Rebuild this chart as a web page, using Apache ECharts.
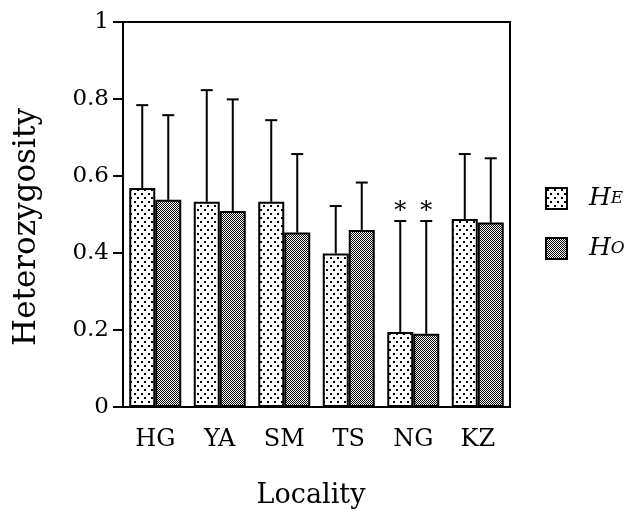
<!DOCTYPE html>
<html>
<head>
<meta charset="utf-8">
<script src="https://cdn.jsdelivr.net/npm/echarts@6/dist/echarts.min.js"></script>
<style>
html,body{margin:0;padding:0;background:#fff;}
#chart{width:625px;height:515px;}
</style>
</head>
<body>
<div id="chart"></div>
<script>
// ---- data ----
var categories = ['HG', 'YA', 'SM', 'TS', 'NG', 'KZ'];
var heMean  = [0.569, 0.533, 0.533, 0.399, 0.195, 0.488];
var hoMean  = [0.538, 0.509, 0.453, 0.460, 0.190, 0.479];
var heUpper = [0.784, 0.823, 0.745, 0.522, 0.483, 0.657];
var hoUpper = [0.758, 0.799, 0.657, 0.583, 0.483, 0.646];
var heStar  = [0, 0, 0, 0, 1, 0];
var hoStar  = [0, 0, 0, 0, 1, 0];
var yTicks  = ['0', '0.2', '0.4', '0.6', '0.8', '1'];

// ---- patterns ----
function makeTile(w, h, dots, bg) {
  var c = document.createElement('canvas');
  c.width = w; c.height = h;
  var g = c.getContext('2d');
  g.fillStyle = bg; g.fillRect(0, 0, w, h);
  g.fillStyle = '#000';
  dots.forEach(function (d) { g.fillRect(d[0], d[1], d[2], d[3]); });
  return c;
}
var heTile = makeTile(7, 8, [[1, 1, 2, 2], [4, 5, 2, 2]], '#fff');
var hoTile = makeTile(2, 2, [[0, 0, 1, 1], [1, 1, 1, 1]], '#fff');
var hePattern = { image: heTile, repeat: 'repeat' };
var hoPattern = { image: hoTile, repeat: 'repeat' };

var FONT = 'DejaVu Serif';
var BAR_W = 26;

function errRender(offset) {
  return function (params, api) {
    var i = api.value(0);
    var base = api.coord([i, api.value(1)]);
    var top = api.coord([i, api.value(2)]);
    var x = base[0] + offset;
    var children = [
      { type: 'line', shape: { x1: x, y1: base[1], x2: x, y2: top[1] },
        style: { stroke: '#000', lineWidth: 2 } },
      { type: 'line', shape: { x1: x - 6, y1: top[1], x2: x + 6, y2: top[1] },
        style: { stroke: '#000', lineWidth: 2 } }
    ];
    if (api.value(3)) {
      children.push({ type: 'text', style: { x: x, y: top[1] - 21, text: '*',
        fontFamily: FONT, fontSize: 24, fill: '#000', align: 'center', verticalAlign: 'top' } });
    }
    return { type: 'group', children: children };
  };
}

function errData(mean, upper, star) {
  return categories.map(function (c, i) { return [i, mean[i], upper[i], star[i]]; });
}

var chart = echarts.init(document.getElementById('chart'), null, { renderer: 'canvas' });
chart.setOption({
  animation: false,
  backgroundColor: '#fff',
  grid: { left: 123, right: 115, top: 22, bottom: 108, show: true,
          borderColor: '#000', borderWidth: 2, backgroundColor: 'transparent' },
  legend: {
    orient: 'vertical', left: 540, top: 181, itemWidth: 21, itemHeight: 21, itemGap: 25,
    icon: 'rect', selectedMode: false,
    data: ['HE', 'HO'],
    formatter: function (n) { return '{h|H}{s|' + n.charAt(1) + '}'; },
    textStyle: { padding: [0, 0, 0, 17], lineHeight: 21,
      rich: {
        h: { fontFamily: FONT, fontStyle: 'italic', fontSize: 25, color: '#000', lineHeight: 21 },
        s: { fontFamily: FONT, fontStyle: 'italic', fontSize: 17, color: '#000', lineHeight: 21 }
      } }
  },
  xAxis: {
    type: 'category', data: categories,
    axisLine: { lineStyle: { color: '#000', width: 2 } },
    axisTick: { alignWithLabel: true, length: 10, lineStyle: { color: '#000', width: 2 } },
    axisLabel: { color: '#000', fontFamily: FONT, fontSize: 24, margin: 21 }
  },
  yAxis: {
    type: 'value', min: 0, max: 1, interval: 0.2,
    axisLine: { show: true, lineStyle: { color: '#000', width: 2 } },
    axisTick: { show: true, length: 10, lineStyle: { color: '#000', width: 2 } },
    splitLine: { show: false },
    axisLabel: { color: '#000', fontFamily: FONT, fontSize: 23, margin: 14,
      formatter: function (v) { return yTicks[Math.round(v / 0.2)]; } }
  },
  graphic: [
    { type: 'text', rotation: Math.PI / 2, x: 27, y: 227,
      style: { text: 'Heterozygosity', fontFamily: FONT, fontSize: 31,
        fill: '#000', align: 'center', verticalAlign: 'middle' } },
    { type: 'text', x: 311, y: 496, style: { text: 'Locality', fontFamily: FONT, fontSize: 27,
        fill: '#000', align: 'center', verticalAlign: 'middle' } }
  ],
  series: [
    { name: 'HE', type: 'bar', data: heMean, barWidth: BAR_W, barGap: '0%',
      itemStyle: { color: hePattern, borderColor: '#000', borderWidth: 2 } },
    { name: 'HO', type: 'bar', data: hoMean, barWidth: BAR_W, barGap: '0%',
      itemStyle: { color: hoPattern, borderColor: '#000', borderWidth: 2 } },
    { type: 'custom', renderItem: errRender(-BAR_W / 2), data: errData(heMean, heUpper, heStar),
      z: 3, clip: false },
    { type: 'custom', renderItem: errRender(BAR_W / 2), data: errData(hoMean, hoUpper, hoStar),
      z: 3, clip: false }
  ]
});
</script>
</body>
</html>
